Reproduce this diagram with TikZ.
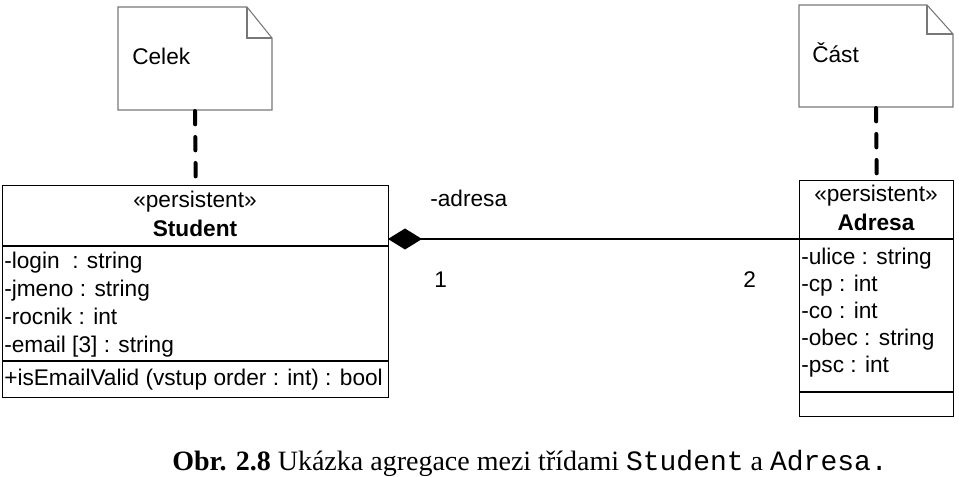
\documentclass[tikz,border=0pt]{standalone}
\usepackage{fontspec}
\setmainfont{Liberation Sans}
\setmonofont{Liberation Mono}
\newfontfamily\captionserif{Liberation Serif}
\usepackage{tikz}
\usetikzlibrary{positioning,arrows.meta,shapes.geometric}
\definecolor{notegray}{RGB}{120,120,120}

\begin{document}
\begin{tikzpicture}[x=0.75pt,y=-0.75pt,font=\fontsize{17}{20}\selectfont,
  classbox/.style={draw,line width=1.1pt,inner sep=0pt,anchor=north west},
  txt/.style={anchor=base west,inner sep=0pt},
  ctxt/.style={anchor=base,inner sep=0pt},
  notebox/.style={draw=notegray,line width=0.8pt,fill=white},
  notelink/.style={line width=3pt,line cap=round,dash pattern=on 10pt off 9.5pt},
  aggr/.style={{Diamond[length=25.5pt,width=15.75pt]}-,line width=1pt}]
\useasboundingbox (0,0) rectangle (959,477);
% notes
\draw[notebox] (118,7) -- (247,7) -- (272,38) -- (272,110) -- (118,110) -- cycle;
\draw[notegray,line width=0.8pt] (247,7) |- (272,38);
\node[txt] (celek) at (132,65) {Celek};
\coordinate (celek-b) at (195,111);
\draw[notebox] (799,5) -- (927,5) -- (953,34) -- (953,107) -- (799,107) -- cycle;
\draw[notegray,line width=0.8pt] (927,5) |- (953,34);
\node[txt] (cast) at (812,63) {Část};
\coordinate (cast-b) at (876,108);
% class Student
\node[classbox,minimum width=289.5pt,minimum height=159pt] (student) at (2,185) {};
\draw[line width=1.1pt] (2,246) -- (388,246) (2,361) -- (388,361);
\node[ctxt] (st-stereo) at (195,208) {«persistent»};
\node[ctxt] (st-name) at (195,237) {\bfseries Student};
\node[txt] (st-a1) at (4,268) {-login\ \ : string};
\node[txt] (st-a2) at (4,296) {-jmeno : string};
\node[txt] (st-a3) at (4,324) {-rocnik : int};
\node[txt] (st-a4) at (4,352) {-email [3] : string};
\node[txt] (st-m1) at (4,385) {+isEmailValid (vstup order : int) : bool};
% class Adresa
\node[classbox,minimum width=115.5pt,minimum height=177pt] (adresa) at (799,180) {};
\draw[line width=1.1pt] (799,239) -- (953,239) (799,392) -- (953,392);
\node[ctxt] (ad-stereo) at (876,202) {«persistent»};
\node[ctxt] (ad-name) at (876,230) {\bfseries Adresa};
\node[txt] (ad-a1) at (801,264) {-ulice : string};
\node[txt] (ad-a2) at (801,291) {-cp : int};
\node[txt] (ad-a3) at (801,318) {-co : int};
\node[txt] (ad-a4) at (801,345) {-obec : string};
\node[txt] (ad-a5) at (801,372) {-psc : int};
% links
\draw[notelink] (celek-b) -- (student.north);
\draw[notelink] (cast-b) -- (adresa.north);
\coordinate (agg) at (388,239);
\draw[aggr] (agg) -- (agg -| adresa.west);
\node[txt] (role) at (430,207) {-adresa};
\node[txt] (mult-a) at (434,287) {1};
\node[txt] (mult-b) at (743,287) {2};
% caption
\node[txt] (caption) at (172,470) {\captionserif\fontsize{21}{24}\selectfont\textbf{Obr. 2.8} Ukázka agregace mezi třídami \texttt{Student} a \texttt{Adresa.}};
\end{tikzpicture}
\end{document}
